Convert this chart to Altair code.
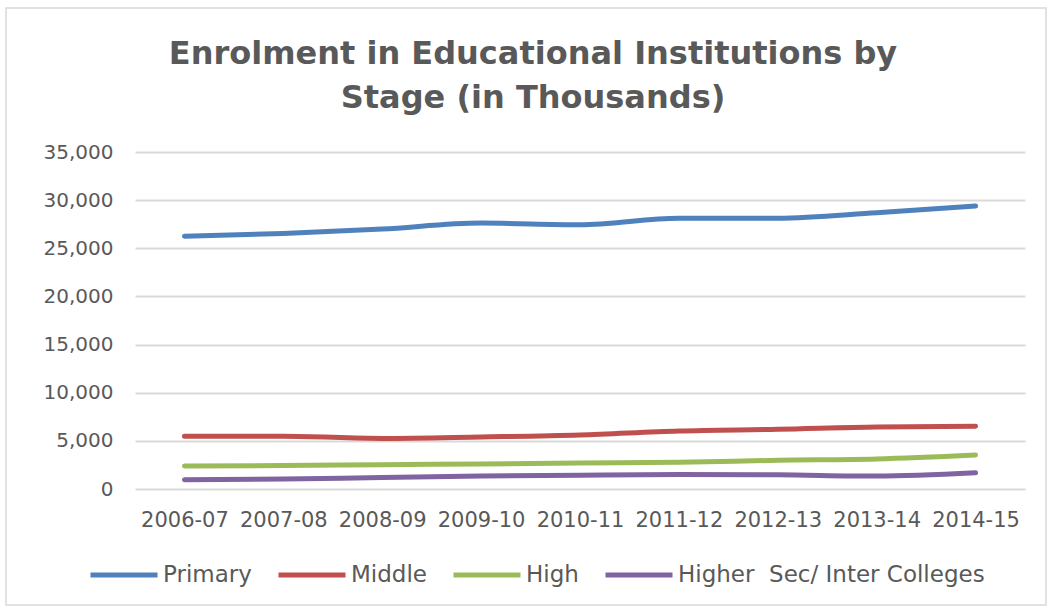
import altair as alt
import pandas as pd

years = ["2006-07", "2007-08", "2008-09", "2009-10", "2010-11",
         "2011-12", "2012-13", "2013-14", "2014-15"]
stages = ["Primary", "Middle", "High", "Higher\u00a0 Sec/ Inter Colleges"]
primary = [26250, 26530, 27000, 27620, 27450, 28130, 28130, 28700, 29390]
middle = [5480, 5480, 5250, 5410, 5620, 6030, 6200, 6440, 6510]
high = [2400, 2430, 2530, 2600, 2700, 2770, 2980, 3120, 3530]
higher_sec = [960, 1030, 1200, 1340, 1440, 1510, 1470, 1340, 1680]
colors = ["#4f81bd", "#c0504d", "#9bbb59", "#8064a2"]
title_lines = ["Enrolment in Educational Institutions by", "Stage (in Thousands)"]

rows = []
for stage, series in zip(stages, [primary, middle, high, higher_sec]):
    for i, (yr, v) in enumerate(zip(years, series)):
        rows.append({"Year": yr, "Stage": stage, "Value": v, "order": i})
df = pd.DataFrame(rows)

FONT = "DejaVu Sans"
GREY = "#595959"
one = pd.DataFrame({"a": [0]})

border = alt.Chart(one).mark_rect(
    fill=None, stroke="#d9d9d9", strokeWidth=1.5
).encode(
    x=alt.value(-129), x2=alt.value(911), y=alt.value(-144), y2=alt.value(453)
)

title1 = alt.Chart(one).mark_text(
    text=title_lines[0], font=FONT, fontSize=32, fontWeight="bold", color=GREY,
    align="center", baseline="alphabetic"
).encode(x=alt.value(398), y=alt.value(-88))
title2 = alt.Chart(one).mark_text(
    text=title_lines[1], font=FONT, fontSize=32, fontWeight="bold", color=GREY,
    align="center", baseline="alphabetic"
).encode(x=alt.value(398), y=alt.value(-44))

lines = alt.Chart(df).mark_line(
    strokeWidth=5, interpolate="monotone", strokeCap="round"
).encode(
    x=alt.X("Year:N", sort=years, title=None,
            scale=alt.Scale(type="point", padding=0.5),
            axis=alt.Axis(labelAngle=0, labelFontSize=21, labelColor=GREY,
                          labelFont=FONT, labelPadding=20, ticks=False,
                          domain=False, grid=False, labelOverlap=False)),
    y=alt.Y("Value:Q", title=None,
            scale=alt.Scale(domain=[0, 35000], nice=False),
            axis=alt.Axis(values=[0, 5000, 10000, 15000, 20000, 25000, 30000, 35000],
                          format=",.0f", labelFontSize=20, labelColor=GREY,
                          labelFont=FONT, labelPadding=22, ticks=False,
                          domain=False, gridColor="#d9d9d9", gridWidth=2)),
    color=alt.Color("Stage:N", sort=stages,
                    scale=alt.Scale(domain=stages, range=colors),
                    legend=alt.Legend(title=None, orient="none", direction="horizontal",
                                      legendX=-47, legendY=387,
                                      symbolType="stroke", symbolSize=4489,
                                      symbolStrokeWidth=5, labelFontSize=23,
                                      labelColor=GREY, labelFont=FONT,
                                      labelOffset=3, columnPadding=16,
                                      labelLimit=500)),
    order="order:Q",
)

chart = alt.layer(border, title1, title2, lines).properties(
    width=890, height=337,
    padding={"left": 135, "top": 152, "right": 24, "bottom": 119},
    autosize=alt.AutoSizeParams(type="none"),
).configure_view(stroke=None)

chart.save("out.html", embed_options={"renderer": "svg", "actions": False})
